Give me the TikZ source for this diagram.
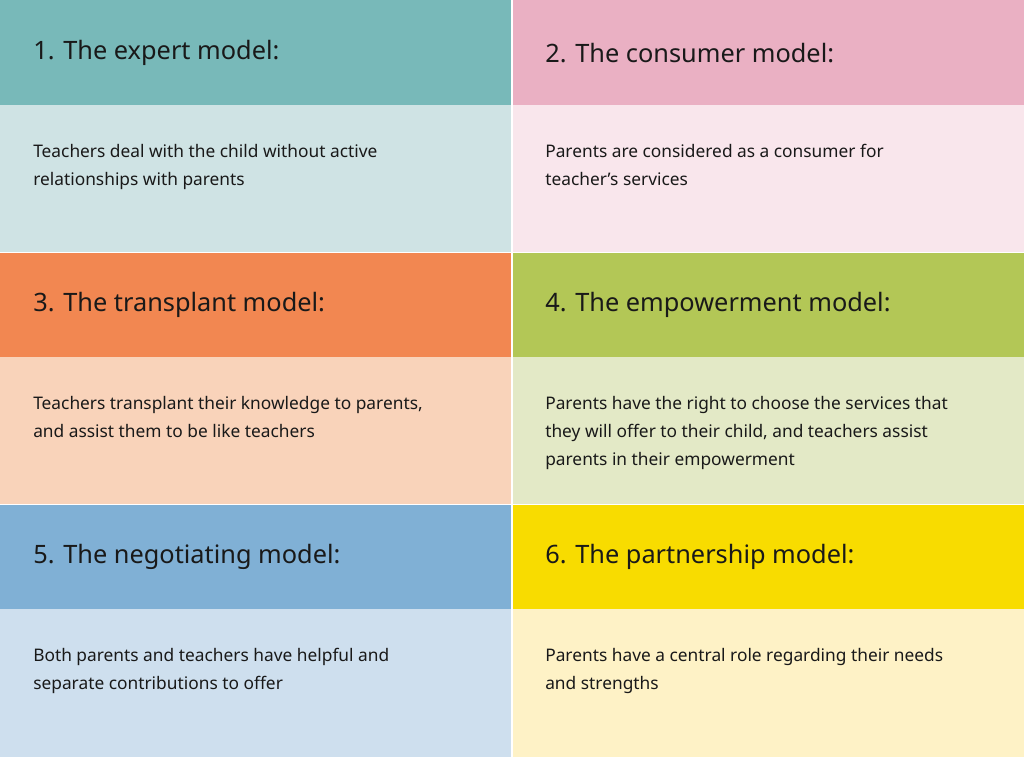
\documentclass[tikz,border=0pt]{standalone}
\usepackage{fontspec}
\setmainfont{Noto Sans}
\definecolor{c1h}{HTML}{78B9B9}\definecolor{c1b}{HTML}{CFE3E4}
\definecolor{c2h}{HTML}{EAB0C3}\definecolor{c2b}{HTML}{F9E6EC}
\definecolor{c3h}{HTML}{F28751}\definecolor{c3b}{HTML}{F9D3BA}
\definecolor{c4h}{HTML}{B3C756}\definecolor{c4b}{HTML}{E3E9C6}
\definecolor{c5h}{HTML}{80B0D5}\definecolor{c5b}{HTML}{CEDFEE}
\definecolor{c6h}{HTML}{F8DC00}\definecolor{c6b}{HTML}{FEF2C6}
\tikzset{
 head/.style={anchor=west,inner sep=0pt,font=\fontsize{19}{23}\selectfont,text=black!90},
 body/.style={anchor=north west,inner sep=0pt,align=left,font=\fontsize{13}{21}\selectfont,text=black!90}
}
\begin{document}
\begin{tikzpicture}[x=0.75pt,y=-0.75pt]
\useasboundingbox (0,0) rectangle (1024,757);
\fill[white] (0,0) rectangle (1024,757);
% left column
\fill[c1h] (0,0) rectangle (511,105);
\fill[c1b] (0,105) rectangle (511,252);
\fill[c3h] (0,253) rectangle (511,357);
\fill[c3b] (0,357) rectangle (511,504);
\fill[c5h] (0,505) rectangle (511,609);
\fill[c5b] (0,609) rectangle (511,757);
% right column
\fill[c2h] (513,0) rectangle (1024,105);
\fill[c2b] (513,105) rectangle (1024,252);
\fill[c4h] (513,253) rectangle (1024,357);
\fill[c4b] (513,357) rectangle (1024,504);
\fill[c6h] (513,505) rectangle (1024,609);
\fill[c6b] (513,609) rectangle (1024,757);
\node[head] (h1) at (33,53) {1. The expert model:};
\node[head] (h2) at (545,53) {2. The consumer model:};
\node[head] (h3) at (33,305) {3. The transplant model:};
\node[head] (h4) at (545,305) {4. The empowerment model:};
\node[head] (h5) at (33,557) {5. The negotiating model:};
\node[head] (h6) at (545,557) {6. The partnership model:};
\node[body] (b1) at (33,144) {Teachers deal with the child without active\\relationships with parents};
\node[body] (b2) at (545,144) {Parents are considered as a consumer for\\teacher’s services};
\node[body] (b3) at (33,396) {Teachers transplant their knowledge to parents,\\and assist them to be like teachers};
\node[body] (b4) at (545,396) {Parents have the right to choose the services that\\they will offer to their child, and teachers assist\\parents in their empowerment};
\node[body] (b5) at (33,648) {Both parents and teachers have helpful and\\separate contributions to offer};
\node[body] (b6) at (545,648) {Parents have a central role regarding their needs\\and strengths};
\end{tikzpicture}
\end{document}
